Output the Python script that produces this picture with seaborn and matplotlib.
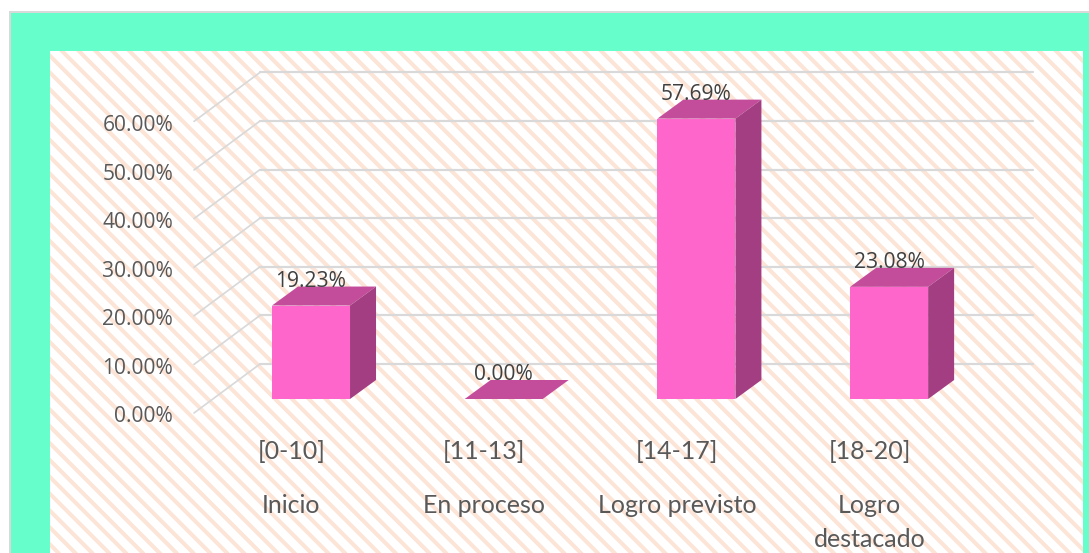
import matplotlib.pyplot as plt
from matplotlib.collections import LineCollection
from matplotlib.patches import Polygon, Rectangle
from matplotlib.transforms import IdentityTransform
import numpy as np
import pandas as pd
import seaborn as sns

# Datos del grafico
rangos = ['[0-10]', '[11-13]', '[14-17]', '[18-20]']
niveles = ['Inicio', 'En proceso', 'Logro previsto', 'Logro\ndestacado']
porcentajes = [19.23, 0.00, 57.69, 23.08]
marcas_y = [0, 10, 20, 30, 40, 50, 60]

DPI = 96
W, H = 1089, 553
PT = 72 / DPI  # pixeles a puntos

sns.set_theme(style='white')
plt.rcParams['font.family'] = ['Open Sans', 'DejaVu Sans']

fig = plt.figure(figsize=(W / DPI, H / DPI), dpi=DPI, facecolor='white')

# marco turquesa
fig.add_artist(Rectangle((9.5 / W, -0.05), 1, 1.05 - 12.5 / H, transform=fig.transFigure,
                         facecolor='#66FFCC', edgecolor='#D9D9D9', linewidth=1.5, zorder=-1))

# area del grafico
left, right, top, bottom = 50, 1083, 51, 553
ax = fig.add_axes([left / W, 1 - bottom / H, (right - left) / W, (bottom - top) / H])
ax.patch.set_facecolor('white')

# rayas diagonales del fondo, en pixeles (x + y = c)
paso = 16.85
rayas = [[(c - H, H), (c + H, -H)] for c in np.arange(564 - paso * 32, 564 + paso * 63, paso)]
fondo = LineCollection(rayas, colors='#FCE4D6', linewidths=4 * PT, transform=IdentityTransform(), zorder=0)
ax.add_collection(fondo, autolim=False)
fondo.set_clip_path(ax.patch)

df = pd.DataFrame({'rango': rangos, 'valor': porcentajes})
ANCHO = 0.405
sns.barplot(data=df, x='rango', y='valor', color='#FF66CC', saturation=1,
            width=ANCHO, ax=ax, zorder=3, linewidth=0)

# escala: pixeles por categoria y por punto porcentual
px_x = 192.7
px_y = 4.86
ax.set_xlim((left - 311) / px_x, (right - 311) / px_x)
ax.set_ylim((399 - bottom) / px_y, (399 - top) / px_y)

# profundidad de las barras y del piso
dx = 26 / px_x
dy = 19 / px_y
base_front = -14 / px_y  # eje delantero respecto a la base de las barras
pared = 35 / px_y
x_front = (194 - 311) / px_x
x_back = (260 - 311) / px_x
x_fin = (1033 - 311) / px_x

for t in marcas_y:
    ax.plot([x_front, x_back], [t + base_front, t + pared], color='#D9D9D9', lw=1.7 * PT, zorder=1)
    ax.plot([x_back, x_fin], [t + pared, t + pared], color='#D9D9D9', lw=2.2 * PT, zorder=1)

for i, v in enumerate(porcentajes):
    x0, x1 = i - ANCHO / 2, i + ANCHO / 2
    ax.add_patch(Polygon([(x0, v), (x1, v), (x1 + dx, v + dy), (x0 + dx, v + dy)],
                         facecolor='#C44D9B', edgecolor='none', zorder=3))
    if v > 0:
        ax.add_patch(Polygon([(x1, 0), (x1 + dx, dy), (x1 + dx, v + dy), (x1, v)],
                             facecolor='#A33E82', edgecolor='none', zorder=3))
    ax.annotate(f'{v:.2f}%', (i, v), xytext=(0, 24.5 * PT), textcoords='offset points',
                ha='center', va='center', fontsize=21 * PT, color='#404040', zorder=5)

ax.set_yticks([t + base_front - 1.5 / px_y for t in marcas_y])
ax.set_yticklabels([f'{t:.2f}%' for t in marcas_y])

# las etiquetas van corridas a la izquierda de cada barra
corrido = -19.5 / px_x
ax.set_xticks([i + corrido for i in range(len(rangos))])
ax.set_xticklabels(rangos, family=['Lato', 'DejaVu Sans'])
ax.tick_params(axis='y', length=0, pad=-(173 - left) * PT, labelsize=21 * PT, labelcolor='#595959')
ax.tick_params(axis='x', length=0, pad=-(bottom - 440) * PT, labelsize=25 * PT, labelcolor='#595959')
ax.set_xlabel('')
ax.set_ylabel('')
for s in ax.spines.values():
    s.set_visible(False)

# segunda fila de etiquetas
y_nivel = (399 - 494) / px_y
for i, n in enumerate(niveles):
    ax.text(i + corrido, y_nivel, n, ha='center', va='top', fontsize=25 * PT, color='#595959',
            family=['Lato', 'DejaVu Sans'], linespacing=1.56, zorder=5)

fig.savefig('out.png', dpi=DPI)
